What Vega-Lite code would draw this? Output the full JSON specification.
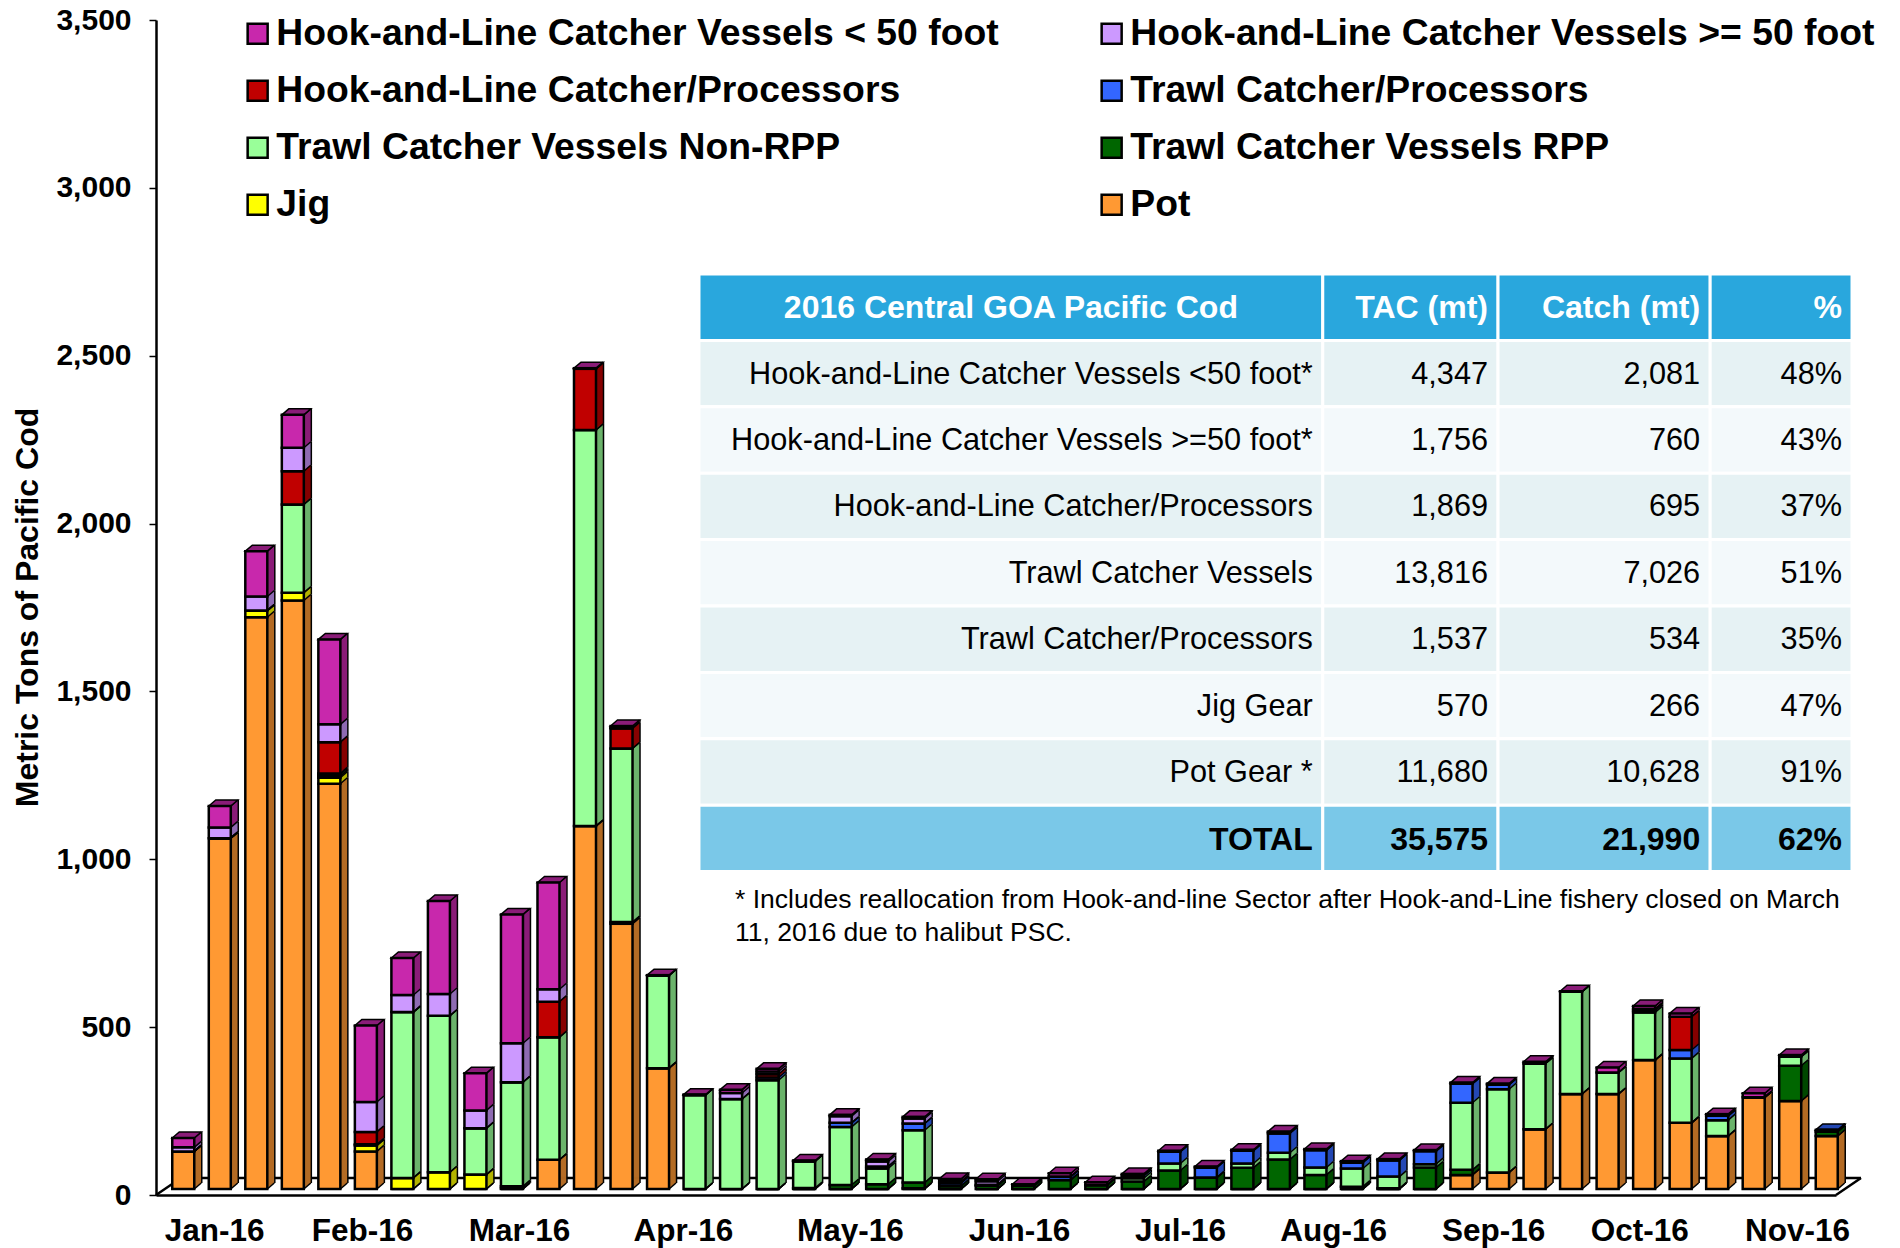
{"$schema":"https://vega.github.io/schema/vega-lite/v6.json","width":1900,"height":1248,"padding":0,"autosize":{"type":"none"},"background":"white","config":{"view":{"stroke":null},"font":"Liberation Sans"},
"datasets":{
"catch":[
{"bar":0,"pot":112,"jig":0,"rpp":0,"nonrpp":0,"tcp":0,"hlcp":0,"ge50":12,"lt50":28},
{"bar":1,"pot":1045,"jig":0,"rpp":0,"nonrpp":0,"tcp":0,"hlcp":0,"ge50":32,"lt50":64},
{"bar":2,"pot":1703,"jig":20,"rpp":0,"nonrpp":0,"tcp":0,"hlcp":0,"ge50":42,"lt50":135},
{"bar":3,"pot":1753,"jig":23,"rpp":0,"nonrpp":263,"tcp":0,"hlcp":99,"ge50":70,"lt50":98},
{"bar":4,"pot":1207,"jig":18,"rpp":5,"nonrpp":5,"tcp":3,"hlcp":93,"ge50":53,"lt50":253},
{"bar":5,"pot":112,"jig":18,"rpp":0,"nonrpp":0,"tcp":3,"hlcp":37,"ge50":89,"lt50":228},
{"bar":6,"pot":0,"jig":33,"rpp":0,"nonrpp":494,"tcp":0,"hlcp":0,"ge50":51,"lt50":110},
{"bar":7,"pot":0,"jig":50,"rpp":0,"nonrpp":466,"tcp":0,"hlcp":0,"ge50":65,"lt50":277},
{"bar":8,"pot":0,"jig":43,"rpp":0,"nonrpp":138,"tcp":0,"hlcp":0,"ge50":53,"lt50":111},
{"bar":9,"pot":0,"jig":2,"rpp":6,"nonrpp":310,"tcp":0,"hlcp":0,"ge50":116,"lt50":384},
{"bar":10,"pot":87,"jig":0,"rpp":0,"nonrpp":365,"tcp":0,"hlcp":106,"ge50":37,"lt50":318},
{"bar":11,"pot":1081,"jig":0,"rpp":0,"nonrpp":1180,"tcp":0,"hlcp":182,"ge50":0,"lt50":2},
{"bar":12,"pot":790,"jig":0,"rpp":5,"nonrpp":517,"tcp":0,"hlcp":60,"ge50":2,"lt50":5},
{"bar":13,"pot":360,"jig":0,"rpp":0,"nonrpp":276,"tcp":0,"hlcp":0,"ge50":0,"lt50":1},
{"bar":14,"pot":0,"jig":0,"rpp":0,"nonrpp":280,"tcp":0,"hlcp":0,"ge50":0,"lt50":1},
{"bar":15,"pot":0,"jig":0,"rpp":0,"nonrpp":268,"tcp":0,"hlcp":0,"ge50":18,"lt50":10},
{"bar":16,"pot":0,"jig":0,"rpp":0,"nonrpp":324,"tcp":8,"hlcp":10,"ge50":8,"lt50":8},
{"bar":17,"pot":0,"jig":0,"rpp":3,"nonrpp":80,"tcp":0,"hlcp":0,"ge50":0,"lt50":2},
{"bar":18,"pot":0,"jig":0,"rpp":12,"nonrpp":173,"tcp":12,"hlcp":0,"ge50":20,"lt50":4},
{"bar":19,"pot":0,"jig":0,"rpp":14,"nonrpp":47,"tcp":6,"hlcp":0,"ge50":15,"lt50":6},
{"bar":20,"pot":0,"jig":2,"rpp":17,"nonrpp":156,"tcp":20,"hlcp":0,"ge50":15,"lt50":5},
{"bar":21,"pot":0,"jig":0,"rpp":9,"nonrpp":0,"tcp":8,"hlcp":5,"ge50":0,"lt50":8},
{"bar":22,"pot":0,"jig":0,"rpp":10,"nonrpp":0,"tcp":3,"hlcp":0,"ge50":10,"lt50":6},
{"bar":23,"pot":0,"jig":0,"rpp":10,"nonrpp":0,"tcp":0,"hlcp":0,"ge50":0,"lt50":4},
{"bar":24,"pot":0,"jig":0,"rpp":27,"nonrpp":0,"tcp":10,"hlcp":0,"ge50":0,"lt50":10},
{"bar":25,"pot":0,"jig":0,"rpp":12,"nonrpp":0,"tcp":0,"hlcp":0,"ge50":0,"lt50":8},
{"bar":26,"pot":0,"jig":0,"rpp":22,"nonrpp":10,"tcp":8,"hlcp":0,"ge50":0,"lt50":5},
{"bar":27,"pot":0,"jig":0,"rpp":55,"nonrpp":21,"tcp":35,"hlcp":0,"ge50":0,"lt50":3},
{"bar":28,"pot":0,"jig":0,"rpp":34,"nonrpp":0,"tcp":30,"hlcp":0,"ge50":0,"lt50":3},
{"bar":29,"pot":0,"jig":0,"rpp":63,"nonrpp":13,"tcp":38,"hlcp":0,"ge50":0,"lt50":3},
{"bar":30,"pot":0,"jig":0,"rpp":88,"nonrpp":20,"tcp":58,"hlcp":0,"ge50":0,"lt50":5},
{"bar":31,"pot":0,"jig":0,"rpp":42,"nonrpp":22,"tcp":52,"hlcp":0,"ge50":0,"lt50":3},
{"bar":32,"pot":0,"jig":0,"rpp":7,"nonrpp":54,"tcp":18,"hlcp":0,"ge50":0,"lt50":4},
{"bar":33,"pot":0,"jig":0,"rpp":2,"nonrpp":35,"tcp":49,"hlcp":0,"ge50":0,"lt50":3},
{"bar":34,"pot":0,"jig":0,"rpp":64,"nonrpp":10,"tcp":39,"hlcp":0,"ge50":0,"lt50":3},
{"bar":35,"pot":42,"jig":0,"rpp":15,"nonrpp":200,"tcp":57,"hlcp":0,"ge50":0,"lt50":3},
{"bar":36,"pot":49,"jig":0,"rpp":0,"nonrpp":248,"tcp":14,"hlcp":0,"ge50":0,"lt50":3},
{"bar":37,"pot":178,"jig":0,"rpp":0,"nonrpp":196,"tcp":0,"hlcp":0,"ge50":0,"lt50":5},
{"bar":38,"pot":283,"jig":0,"rpp":0,"nonrpp":305,"tcp":0,"hlcp":0,"ge50":0,"lt50":1},
{"bar":39,"pot":283,"jig":0,"rpp":0,"nonrpp":64,"tcp":0,"hlcp":0,"ge50":0,"lt50":15},
{"bar":40,"pot":384,"jig":0,"rpp":0,"nonrpp":142,"tcp":5,"hlcp":5,"ge50":0,"lt50":9},
{"bar":41,"pot":197,"jig":0,"rpp":0,"nonrpp":192,"tcp":25,"hlcp":99,"ge50":0,"lt50":10},
{"bar":42,"pot":158,"jig":0,"rpp":0,"nonrpp":47,"tcp":13,"hlcp":0,"ge50":0,"lt50":5},
{"bar":43,"pot":273,"jig":0,"rpp":0,"nonrpp":0,"tcp":0,"hlcp":0,"ge50":0,"lt50":12},
{"bar":44,"pot":262,"jig":0,"rpp":105,"nonrpp":27,"tcp":0,"hlcp":0,"ge50":0,"lt50":5},
{"bar":45,"pot":158,"jig":0,"rpp":13,"nonrpp":0,"tcp":5,"hlcp":0,"ge50":0,"lt50":0}
],
"seriesInfo":[
{"key":"pot","series":"Pot","order":1},
{"key":"jig","series":"Jig","order":2},
{"key":"rpp","series":"Trawl Catcher Vessels RPP","order":3},
{"key":"nonrpp","series":"Trawl Catcher Vessels Non-RPP","order":4},
{"key":"tcp","series":"Trawl Catcher/Processors","order":5},
{"key":"hlcp","series":"Hook-and-Line Catcher/Processors","order":6},
{"key":"ge50","series":"Hook-and-Line Catcher Vessels >= 50 foot","order":7},
{"key":"lt50","series":"Hook-and-Line Catcher Vessels < 50 foot","order":8}
],
"monthTicks":[{"t":-0.5},{"t":3.5},{"t":7.5},{"t":11.5},{"t":15.5},{"t":19.5},{"t":23.5},{"t":27.5},{"t":31.5},{"t":35.5},{"t":39.5},{"t":43.5}],
"floorEnds":[{"t":-0.5,"level":0},{"t":45.5,"level":0}],
"floor":[{"a":-0.5,"b":45.5,"level":0}],
"tableRows":[
{"row":0,"kind":"header","sector":"2016 Central GOA Pacific Cod","tac":"TAC (mt)","catch":"Catch (mt)","pct":"%"},
{"row":1,"kind":"even","sector":"Hook-and-Line Catcher Vessels <50 foot*","tac":"4,347","catch":"2,081","pct":"48%"},
{"row":2,"kind":"odd","sector":"Hook-and-Line Catcher Vessels >=50 foot*","tac":"1,756","catch":"760","pct":"43%"},
{"row":3,"kind":"even","sector":"Hook-and-Line Catcher/Processors","tac":"1,869","catch":"695","pct":"37%"},
{"row":4,"kind":"odd","sector":"Trawl Catcher Vessels","tac":"13,816","catch":"7,026","pct":"51%"},
{"row":5,"kind":"even","sector":"Trawl Catcher/Processors","tac":"1,537","catch":"534","pct":"35%"},
{"row":6,"kind":"odd","sector":"Jig Gear","tac":"570","catch":"266","pct":"47%"},
{"row":7,"kind":"even","sector":"Pot Gear *","tac":"11,680","catch":"10,628","pct":"91%"},
{"row":8,"kind":"total","sector":"TOTAL","tac":"35,575","catch":"21,990","pct":"62%"}
],
"tableCols":[
{"col":"sector","left":0,"right":54.1,"mid":27.05},
{"col":"tac","left":54.1,"right":69.3,"mid":61.7},
{"col":"catch","left":69.3,"right":87.7,"mid":78.5},
{"col":"pct","left":87.7,"right":100,"mid":93.85}
],
"footnote":[{"row":9,"pos":0,"text":"* Includes reallocation from Hook-and-line Sector after Hook-and-Line fishery closed on March\n11, 2016 due to halibut PSC."}]
},
"resolve":{"scale":{"x":"independent","y":"independent","fill":"independent"}},
"layer":[
{"data":{"name":"catch"},
"transform":[
{"fold":["pot","jig","rpp","nonrpp","tcp","hlcp","ge50","lt50"],"as":["key","value"]},
{"lookup":"key","from":{"data":{"name":"seriesInfo"},"key":"key","fields":["series","order"]}},
{"stack":"value","groupby":["bar"],"sort":[{"field":"order","order":"ascending"}],"as":["y0","y1"]}
],
"encoding":{
"x":{"field":"bar","type":"quantitative","scale":{"domain":[-0.5,45.5],"range":[156,1836],"nice":false,"zero":false,"padding":0},
"axis":{"values":[1.09,5.14,9.44,13.93,18.5,23.13,27.54,31.73,36.11,40.11,44.43],"labelExpr":"{'1.09':'Jan-16','5.14':'Feb-16','9.44':'Mar-16','13.93':'Apr-16','18.5':'May-16','23.13':'Jun-16','27.54':'Jul-16','31.73':'Aug-16','36.11':'Sep-16','40.11':'Oct-16','44.43':'Nov-16'}[datum.value]","title":null,"ticks":false,"grid":false,"offset":-53,"domainColor":"black","domainWidth":2.5,"labelFont":"Liberation Sans","labelFontWeight":"bold","labelFontSize":31.5,"labelColor":"black","labelPadding":20,"labelOverlap":false,"labelFlush":false,"labelBound":false}},
"y":{"field":"y1","type":"quantitative","scale":{"domain":[0,3500],"range":[1195,20],"nice":false},
"axis":{"values":[0,500,1000,1500,2000,2500,3000,3500],"labelExpr":"format(datum.value,',.0f')","title":"Metric Tons of Pacific Cod","grid":false,"offset":-156,"domainColor":"black","domainWidth":2.5,"tickColor":"black","tickWidth":1.5,"tickSize":7,"labelFont":"Liberation Sans","labelFontWeight":"bold","labelFontSize":30,"labelColor":"black","labelPadding":18,"titleFont":"Liberation Sans","titleFontWeight":"bold","titleFontSize":32,"titleColor":"black","titleX":-129,"titleY":607,"titleAngle":-90,"titleAnchor":"middle","titleAlign":"center","titleBaseline":"middle"}}
},
"layer":[
{"data":{"name":"floor"},"mark":{"type":"rule","color":"black","strokeWidth":2.5,"xOffset":25,"x2Offset":25,"yOffset":-17},"encoding":{"x":{"field":"a","type":"quantitative"},"x2":{"field":"b"},"y":{"field":"level","type":"quantitative"}}},
{"data":{"name":"floorEnds"},"mark":{"type":"point","shape":"M0 0L25 -17","size":4,"filled":false,"stroke":"black","strokeWidth":2.5,"opacity":1},"encoding":{"x":{"field":"t","type":"quantitative"},"y":{"field":"level","type":"quantitative"}}},
{"data":{"name":"monthTicks"},"mark":{"type":"point","shape":"M0 0L0 7","size":4,"filled":false,"stroke":"black","strokeWidth":1.5,"opacity":1},"encoding":{"x":{"field":"t","type":"quantitative"},"y":{"datum":0,"type":"quantitative"}}},
{"mark":{"type":"bar","width":1.8,"xOffset":20.5,"yOffset":-6.9,"y2Offset":-6.9},"encoding":{"y2":{"field":"y0"},"fill":{"field":"series","type":"nominal","legend":null,"scale":{"domain":["Hook-and-Line Catcher Vessels < 50 foot","Hook-and-Line Catcher Vessels >= 50 foot","Hook-and-Line Catcher/Processors","Trawl Catcher/Processors","Trawl Catcher Vessels Non-RPP","Trawl Catcher Vessels RPP","Jig","Pot"],"range":["#8A1C78","#8F6BB3","#860000","#2347B3","#6BB36B","#004700","#B3B300","#B36B24"]}}}},
{"mark":{"type":"bar","width":1.8,"xOffset":21.5,"yOffset":-7.7,"y2Offset":-7.7},"encoding":{"y2":{"field":"y0"},"fill":{"field":"series","type":"nominal","legend":null}}},
{"mark":{"type":"bar","width":1.8,"xOffset":22.5,"yOffset":-8.6,"y2Offset":-8.6},"encoding":{"y2":{"field":"y0"},"fill":{"field":"series","type":"nominal","legend":null}}},
{"mark":{"type":"bar","width":1.8,"xOffset":23.5,"yOffset":-9.4,"y2Offset":-9.4},"encoding":{"y2":{"field":"y0"},"fill":{"field":"series","type":"nominal","legend":null}}},
{"mark":{"type":"bar","width":1.8,"xOffset":24.5,"yOffset":-10.3,"y2Offset":-10.3},"encoding":{"y2":{"field":"y0"},"fill":{"field":"series","type":"nominal","legend":null}}},
{"mark":{"type":"bar","width":1.8,"xOffset":25.5,"yOffset":-11.1,"y2Offset":-11.1},"encoding":{"y2":{"field":"y0"},"fill":{"field":"series","type":"nominal","legend":null}}},
{"mark":{"type":"bar","width":1.8,"xOffset":26.5,"yOffset":-12,"y2Offset":-12},"encoding":{"y2":{"field":"y0"},"fill":{"field":"series","type":"nominal","legend":null}}},
{"mark":{"type":"bar","width":1.5,"xOffset":27.5,"yOffset":-12,"y2Offset":-12,"color":"black"},"encoding":{"y2":{"field":"y0"}}},
{"mark":{"type":"point","shape":"M0 0L7 -6","size":4,"filled":false,"stroke":"black","strokeWidth":1.5,"opacity":1,"xOffset":20,"yOffset":-6},"encoding":{}},
{"transform":[{"filter":"datum.order==1"}],"mark":{"type":"point","shape":"M0 0L7 -6","size":4,"filled":false,"stroke":"black","strokeWidth":1.5,"opacity":1,"xOffset":20,"yOffset":-6},"encoding":{"y":{"field":"y0","type":"quantitative"}}},
{"transform":[{"joinaggregate":[{"op":"max","field":"y1","as":"top"}],"groupby":["bar"]},{"filter":"datum.y1==datum.top && datum.value>0"}],"mark":{"type":"point","shape":"M-11 0L-4 -6L18 -6L11 0Z","size":4,"filled":true,"stroke":"black","strokeWidth":1.5,"opacity":1,"xOffset":9,"yOffset":-6},"encoding":{"fill":{"field":"series","type":"nominal","legend":null}}},
{"mark":{"type":"bar","width":22,"xOffset":9,"yOffset":-6,"y2Offset":-6,"stroke":"black","strokeWidth":2.5},"encoding":{"y2":{"field":"y0"},"color":{"field":"series","type":"nominal","scale":{"domain":["Hook-and-Line Catcher Vessels < 50 foot","Hook-and-Line Catcher Vessels >= 50 foot","Hook-and-Line Catcher/Processors","Trawl Catcher/Processors","Trawl Catcher Vessels Non-RPP","Trawl Catcher Vessels RPP","Jig","Pot"],"range":["#C828AC","#CC99FF","#C00000","#3366FF","#99FF99","#006600","#FFFF00","#FF9933"]},"legend":{"title":null,"orient":"none","legendX":239,"legendY":15,"direction":"horizontal","columns":2,"symbolType":"square","symbolSize":400,"symbolStrokeColor":"black","symbolStrokeWidth":2.5,"labelFont":"Liberation Sans","labelFontWeight":"bold","labelFontSize":37.3,"labelColor":"black","labelLimit":1000,"labelOffset":0,"rowPadding":19,"columnPadding":94}}}}
]},
{"layer":[
{"data":{"name":"tableRows"},"mark":{"type":"rect","stroke":"white","strokeWidth":3},
"transform":[{"fold":["sector","tac","catch","pct"],"as":["col","text"]},{"lookup":"col","from":{"data":{"name":"tableCols"},"key":"col","fields":["left","right","mid"]}}],
"encoding":{"x":{"field":"left","type":"quantitative","scale":{"domain":[0,100],"range":[699,1852],"nice":false,"zero":false,"padding":0},"axis":null},"x2":{"field":"right"},"y":{"field":"row","type":"ordinal","scale":{"domain":[0,1,2,3,4,5,6,7,8,9],"range":[274,938],"paddingInner":0,"paddingOuter":0},"axis":null},"fill":{"field":"kind","type":"nominal","legend":null,"scale":{"domain":["header","even","odd","total"],"range":["#29A7DD","#E6F2F4","#F3F9FB","#7AC8E8"]}}}},
{"data":{"name":"tableRows"},
"transform":[{"fold":["sector","tac","catch","pct"],"as":["col","text"]},{"lookup":"col","from":{"data":{"name":"tableCols"},"key":"col","fields":["left","right","mid"]}},{"filter":"datum.kind=='even'||datum.kind=='odd'"}],
"mark":{"type":"text","align":"right","baseline":"middle","font":"Liberation Sans","fontSize":30.7,"color":"black","xOffset":-10,"yOffset":1},
"encoding":{"x":{"field":"right","type":"quantitative","scale":{"domain":[0,100],"range":[699,1852],"nice":false,"zero":false,"padding":0},"axis":null},"y":{"field":"row","type":"ordinal","scale":{"domain":[0,1,2,3,4,5,6,7,8,9],"range":[274,938],"paddingInner":0,"paddingOuter":0},"axis":null},"text":{"field":"text"}}},
{"data":{"name":"tableRows"},
"transform":[{"fold":["sector","tac","catch","pct"],"as":["col","text"]},{"lookup":"col","from":{"data":{"name":"tableCols"},"key":"col","fields":["left","right","mid"]}},{"filter":"datum.kind=='total'"}],
"mark":{"type":"text","align":"right","baseline":"middle","font":"Liberation Sans","fontWeight":"bold","fontSize":32,"color":"black","xOffset":-10,"yOffset":2},
"encoding":{"x":{"field":"right","type":"quantitative","scale":{"domain":[0,100],"range":[699,1852],"nice":false,"zero":false,"padding":0},"axis":null},"y":{"field":"row","type":"ordinal","scale":{"domain":[0,1,2,3,4,5,6,7,8,9],"range":[274,938],"paddingInner":0,"paddingOuter":0},"axis":null},"text":{"field":"text"}}},
{"data":{"name":"tableRows"},
"transform":[{"fold":["sector","tac","catch","pct"],"as":["col","text"]},{"lookup":"col","from":{"data":{"name":"tableCols"},"key":"col","fields":["left","right","mid"]}},{"filter":"datum.kind=='header'&&datum.col!='sector'"}],
"mark":{"type":"text","align":"right","baseline":"middle","font":"Liberation Sans","fontWeight":"bold","fontSize":32,"color":"white","xOffset":-10,"yOffset":1},
"encoding":{"x":{"field":"right","type":"quantitative","scale":{"domain":[0,100],"range":[699,1852],"nice":false,"zero":false,"padding":0},"axis":null},"y":{"field":"row","type":"ordinal","scale":{"domain":[0,1,2,3,4,5,6,7,8,9],"range":[274,938],"paddingInner":0,"paddingOuter":0},"axis":null},"text":{"field":"text"}}},
{"data":{"name":"tableRows"},
"transform":[{"fold":["sector","tac","catch","pct"],"as":["col","text"]},{"lookup":"col","from":{"data":{"name":"tableCols"},"key":"col","fields":["left","right","mid"]}},{"filter":"datum.kind=='header'&&datum.col=='sector'"}],
"mark":{"type":"text","align":"center","baseline":"middle","font":"Liberation Sans","fontWeight":"bold","fontSize":32,"color":"white","yOffset":1},
"encoding":{"x":{"field":"mid","type":"quantitative","scale":{"domain":[0,100],"range":[699,1852],"nice":false,"zero":false,"padding":0},"axis":null},"y":{"field":"row","type":"ordinal","scale":{"domain":[0,1,2,3,4,5,6,7,8,9],"range":[274,938],"paddingInner":0,"paddingOuter":0},"axis":null},"text":{"field":"text"}}},
{"data":{"name":"footnote"},
"mark":{"type":"text","align":"left","baseline":"middle","font":"Liberation Sans","fontSize":26.5,"color":"black","xOffset":36,"yOffset":-5,"lineBreak":"\n","lineHeight":33},
"encoding":{"x":{"field":"pos","type":"quantitative","scale":{"domain":[0,100],"range":[699,1852],"nice":false,"zero":false,"padding":0},"axis":null},"y":{"field":"row","type":"ordinal","scale":{"domain":[0,1,2,3,4,5,6,7,8,9],"range":[274,938],"paddingInner":0,"paddingOuter":0},"axis":null},"text":{"field":"text"}}}
]}
]}
